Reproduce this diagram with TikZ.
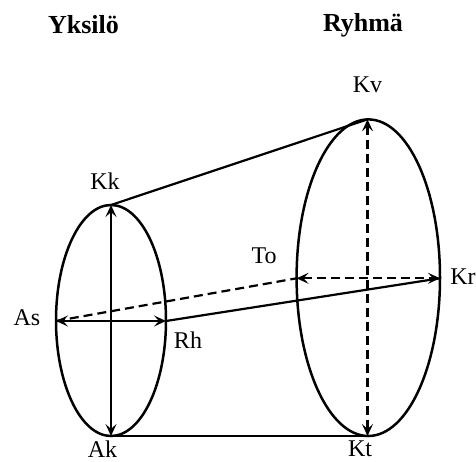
\documentclass[tikz,border=0pt]{standalone}
\usepackage{fontspec}
\setmainfont{Liberation Serif}
\usetikzlibrary{arrows.meta}
\begin{document}
\begin{tikzpicture}[x=1pt,y=-1pt,
  lab/.style={inner sep=0pt,font=\fontsize{24}{27}\selectfont},
  head/.style={inner sep=0pt,font=\fontsize{26}{29}\selectfont\bfseries},
  ellline/.style={line width=2.5pt},
  conn/.style={line width=2.2pt},
  dsh/.style={line width=2.2pt,dash pattern=on 9pt off 5pt},
  tip/.style={{Stealth[length=12pt,width=11pt,inset=5pt]}-{Stealth[length=12pt,width=11pt,inset=5pt]}}
]
\useasboundingbox (0,0) rectangle (476,462);
% ellipses
\draw[ellline] (111,320.5) ellipse [x radius=55, y radius=115.5];
\draw[ellline] (368.3,277.7) ellipse [x radius=71.7, y radius=158.3];
% points
\coordinate (Kk) at (111,205);
\coordinate (Ak) at (111,436);
\coordinate (As) at (56,321);
\coordinate (Rh) at (166,321);
\coordinate (Kv) at (367.5,119.4);
\coordinate (Kt) at (367.5,436);
\coordinate (To) at (296.6,278.3);
\coordinate (Kr) at (440,278.3);
% connectors
\draw[conn] (Kk) -- (Kv);
\draw[conn] (Ak) -- (Kt);
\draw[conn] (Rh) -- (Kr);
\draw[dsh] (As) -- (To);
\draw[conn,tip] (Kk) -- (Ak);
\draw[conn,tip] (As) -- (Rh);
\draw[dsh,tip] (Kv) -- (Kt);
\draw[dsh,tip] (To) -- (Kr);
% labels
\node[head] (yk) at (83.5,25) {Yksilö};
\node[head] (ry) at (363,25) {Ryhmä};
\node[lab] (lKv) at (367.5,85) {Kv};
\node[lab] (lKk) at (105,181) {Kk};
\node[lab] (lTo) at (264,256) {To};
\node[lab] (lKr) at (463,277) {Kr};
\node[lab] (lAs) at (27,318) {As};
\node[lab] (lRh) at (188,340) {Rh};
\node[lab] (lAk) at (102.5,449) {Ak};
\node[lab] (lKt) at (360,449) {Kt};
\end{tikzpicture}
\end{document}
